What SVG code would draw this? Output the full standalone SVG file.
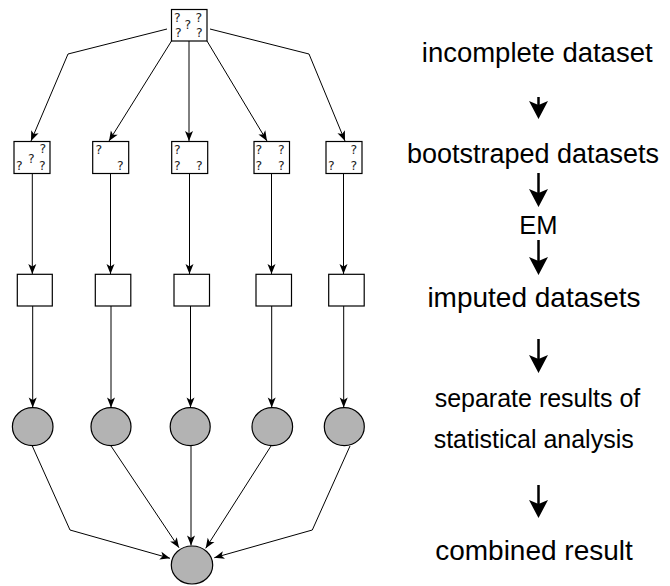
<svg xmlns="http://www.w3.org/2000/svg" width="670" height="586" viewBox="0 0 670 586">
<defs>
<marker id="ah" markerUnits="userSpaceOnUse" markerWidth="10" markerHeight="8" refX="10" refY="4" orient="auto" overflow="visible">
<path d="M0,0 L10,4 L0,8 L2.5,4 z" fill="#000"/>
</marker>
<path id="bighead" d="M-9.5,-18 L0,-14 L9.5,-18 L0,0 z" fill="#000"/>
</defs>
<style>
.box{fill:#fff;stroke:#000;stroke-width:1.2}
.circ{fill:#b3b3b3;stroke:#000;stroke-width:1.2}
.q{font-family:"DejaVu Sans","Liberation Sans",sans-serif;font-size:12.5px;fill:#222}
.conn{fill:none;stroke:#000;stroke-width:1;marker-end:url(#ah)}
.flow{fill:none;stroke:#000;stroke-width:2.5}
.lbl{font-family:"Liberation Sans",Arial,sans-serif;fill:#000;text-anchor:middle}
</style>

<g id="root">
<rect class="box" x="171.5" y="9.5" width="35.5" height="31.5"/>
<text class="q" x="174" y="21.5">?</text>
<text class="q" x="195.5" y="21.5">?</text>
<text class="q" x="184.5" y="28.5">?</text>
<text class="q" x="175" y="37">?</text>
<text class="q" x="196" y="37">?</text>
</g>

<g id="boot1">
<rect class="box" x="14" y="141.5" width="36" height="32"/>
<text class="q" x="39.5" y="153">?</text>
<text class="q" x="28" y="163">?</text>
<text class="q" x="16" y="169.5">?</text>
<text class="q" x="39" y="169.5">?</text>
</g>
<g id="boot2">
<rect class="box" x="92.7" y="141.5" width="36" height="32"/>
<text class="q" x="95.5" y="154">?</text>
<text class="q" x="117" y="169.5">?</text>
</g>
<g id="boot3">
<rect class="box" x="171.7" y="141.5" width="36" height="32"/>
<text class="q" x="174" y="154">?</text>
<text class="q" x="174" y="169.5">?</text>
<text class="q" x="196" y="169.5">?</text>
</g>
<g id="boot4">
<rect class="box" x="254" y="141.5" width="35.5" height="32"/>
<text class="q" x="255.5" y="154">?</text>
<text class="q" x="278" y="154">?</text>
<text class="q" x="255.5" y="169.5">?</text>
<text class="q" x="278" y="169.5">?</text>
</g>
<g id="boot5">
<rect class="box" x="326" y="141.5" width="36" height="32"/>
<text class="q" x="350.5" y="154">?</text>
<text class="q" x="328" y="169.5">?</text>
<text class="q" x="350.5" y="169.5">?</text>
</g>

<g id="imp1"><rect class="box" x="17.3" y="274.3" width="35" height="31.7"/></g>
<g id="imp2"><rect class="box" x="95.3" y="274.3" width="35.5" height="31.7"/></g>
<g id="imp3"><rect class="box" x="174" y="274.3" width="35.5" height="31.7"/></g>
<g id="imp4"><rect class="box" x="256" y="274.3" width="35.5" height="31.7"/></g>
<g id="imp5"><rect class="box" x="328.7" y="274.3" width="35.5" height="31.7"/></g>

<g id="res1"><ellipse class="circ" cx="32.7" cy="426.7" rx="20.3" ry="19"/></g>
<g id="res2"><ellipse class="circ" cx="111" cy="426.7" rx="20" ry="19"/></g>
<g id="res3"><ellipse class="circ" cx="190.2" cy="426.7" rx="20" ry="19"/></g>
<g id="res4"><ellipse class="circ" cx="272.3" cy="426.7" rx="20.3" ry="19"/></g>
<g id="res5"><ellipse class="circ" cx="344.3" cy="426.7" rx="20" ry="19"/></g>

<g id="combined"><ellipse class="circ" cx="192" cy="565" rx="20.7" ry="19"/></g>

<g id="connectors">
<polyline class="conn" points="167,29 68,54 31,141"/>
<line class="conn" x1="171.5" y1="41" x2="109" y2="141"/>
<line class="conn" x1="189" y1="41" x2="189" y2="141"/>
<line class="conn" x1="207" y1="41" x2="267" y2="141"/>
<polyline class="conn" points="210,29 309,54 345,141"/>

<line class="conn" x1="32.3" y1="173.5" x2="32.3" y2="274"/>
<line class="conn" x1="110.5" y1="173.5" x2="110.5" y2="274"/>
<line class="conn" x1="189.5" y1="173.5" x2="189.5" y2="274"/>
<line class="conn" x1="271.5" y1="173.5" x2="271.5" y2="274"/>
<line class="conn" x1="343.5" y1="173.5" x2="343.5" y2="274"/>

<line class="conn" x1="32.7" y1="306" x2="32.7" y2="407.5"/>
<line class="conn" x1="111" y1="306" x2="111" y2="407.5"/>
<line class="conn" x1="190.5" y1="306" x2="190.5" y2="407.5"/>
<line class="conn" x1="271.7" y1="306" x2="271.7" y2="407.5"/>
<line class="conn" x1="343.7" y1="306" x2="343.7" y2="407.5"/>

<polyline class="conn" points="32.3,446 70,530 170,558.3"/>
<line class="conn" x1="111" y1="446" x2="179" y2="547.7"/>
<line class="conn" x1="191" y1="446" x2="191" y2="545.5"/>
<line class="conn" x1="271" y1="446" x2="205.7" y2="548.3"/>
<polyline class="conn" points="350,446 312.3,530 214.3,557.7"/>

<line class="flow" x1="538.5" y1="97" x2="538.5" y2="106"/>
<use href="#bighead" x="538.5" y="119"/>
<line class="flow" x1="538.5" y1="173" x2="538.5" y2="194"/>
<use href="#bighead" x="538.5" y="207"/>
<line class="flow" x1="538.5" y1="240" x2="538.5" y2="262"/>
<use href="#bighead" x="538.5" y="275"/>
<line class="flow" x1="538.5" y1="339" x2="538.5" y2="360"/>
<use href="#bighead" x="538.5" y="373"/>
<line class="flow" x1="538.5" y1="485" x2="538.5" y2="505"/>
<use href="#bighead" x="538.5" y="518"/>
</g>

<g id="labels">
<text class="lbl" x="537.2" y="61.7" font-size="27.5">incomplete dataset</text>
<text class="lbl" x="533" y="163.3" font-size="27">bootstraped datasets</text>
<text class="lbl" x="538.3" y="234" font-size="25.5">EM</text>
<text class="lbl" x="534" y="306.7" font-size="28">imputed datasets</text>
<text class="lbl" x="537.5" y="406.7" font-size="25">separate results of</text>
<text class="lbl" x="533.7" y="448.3" font-size="25">statistical analysis</text>
<text class="lbl" x="534" y="560" font-size="28">combined result</text>
</g>
</svg>
